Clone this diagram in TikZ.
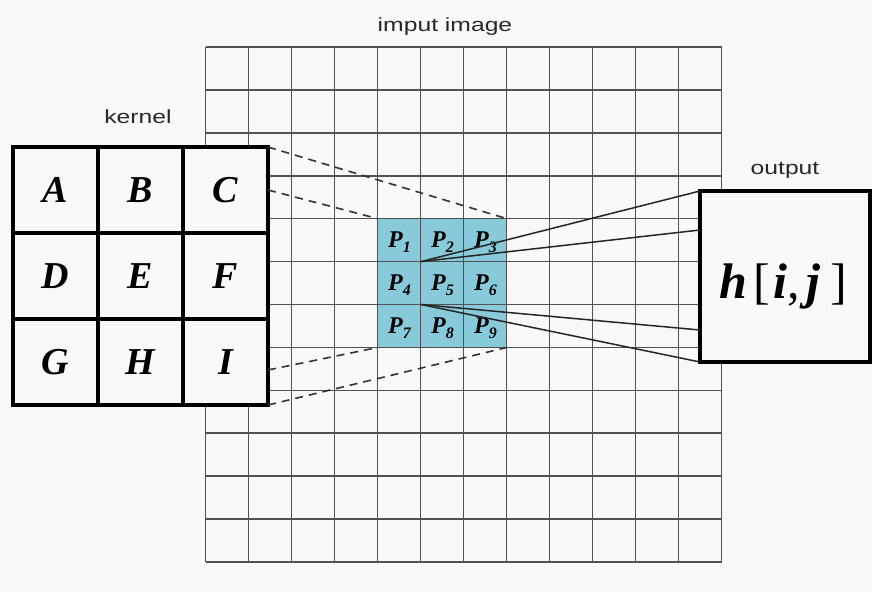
\documentclass[tikz,border=0pt]{standalone}
\usepackage{fontspec}
\setmainfont{Liberation Serif}
\newfontfamily\labfont{Liberation Sans}
\usepackage{graphicx}
\definecolor{bgcol}{RGB}{249,249,249}
\definecolor{wincol}{RGB}{137,202,218}
\definecolor{labcol}{RGB}{40,40,40}
\newcommand\widetext[1]{\scalebox{1.3}[1]{#1}}
\newcommand\pcell[1]{{\fontsize{24}{24}\selectfont\bfseries\itshape P\raisebox{-5pt}{\fontsize{16}{16}\selectfont #1}}}
\begin{document}
\begin{tikzpicture}[x=1pt,y=-1pt,
  gridline/.style={draw=black!68,line width=1.6pt},
  kcell/.style={draw=black,line width=3.6pt,fill=bgcol,minimum width=85pt,minimum height=86pt,
    inner sep=0pt,outer sep=0pt,font=\fontsize{38}{38}\selectfont\bfseries\itshape},
  pixcell/.style={fill=wincol,minimum width=43pt,minimum height=42.9pt,inner sep=0pt,outer sep=0pt},
  outbox/.style={draw=black,line width=3.6pt,fill=bgcol,minimum width=170pt,minimum height=171pt,
    inner sep=0pt,outer sep=0pt},
  caption/.style={font=\labfont\fontsize{19}{19}\selectfont,text=labcol,inner sep=0pt},
  guide/.style={draw=black!80,line width=1.6pt,dash pattern=on 8pt off 6pt},
  link/.style={draw=black!85,line width=1.5pt}]

\fill[bgcol] (0,0) rectangle (872,592);
\useasboundingbox (0,0) rectangle (872,592);

% highlighted 3x3 window of the input image
\foreach \r in {0,1,2}{
  \foreach \c in {0,1,2}{
    \pgfmathtruncatemacro{\n}{3*\r+\c+1}
    \node[pixcell] (p\n) at ({378+21.5+43*\c},{218.7+21.45+42.9*\r}) {};
  }
}

% input image grid, 12 x 12
\foreach \i in {0,...,12}{
  \draw[gridline] ({205.5+43*\i},47) -- ({205.5+43*\i},562);
  \draw[gridline] (205.5,{47+42.92*\i}) -- (721.5,{47+42.92*\i});
}

% pixel labels
\foreach \n in {1,...,9}{
  \node[inner sep=0pt] (pl\n) at ([yshift=-2pt]p\n.center) {\pcell{\n}};
}

% kernel
\node[kcell] (kA) at (55.5,190) {A};
\node[kcell] (kB) at (140.5,190) {B};
\node[kcell] (kC) at (225.5,190) {C};
\node[kcell] (kD) at (55.5,276) {D};
\node[kcell] (kE) at (140.5,276) {E};
\node[kcell] (kF) at (225.5,276) {F};
\node[kcell] (kG) at (55.5,362) {G};
\node[kcell] (kH) at (140.5,362) {H};
\node[kcell] (kI) at (225.5,362) {I};

% output pixel
\node[outbox] (out) at (785,276.5) {};
\node[inner sep=0pt] (outtext) at (783,286)
  {\fontsize{50}{50}\selectfont{\bfseries\itshape h}\hspace{6pt}[\hspace{4pt}{\bfseries\itshape i},\hspace{6pt}{\bfseries\itshape j}\hspace{10pt}]};

% captions
\node[caption] (capin) at (445,27) {\widetext{imput image}};
\node[caption] (capk) at (138,117) {\widetext{kernel}};
\node[caption] (capout) at (785,170) {\widetext{output}};

% kernel footprint on the image
\draw[guide] (kC.north east) -- (p3.north east);
\draw[guide] (kC.east) -- (p1.north west);
\draw[guide] ([yshift=-8pt]kI.east) -- (p7.south west);
\draw[guide] (kI.south east) -- (p9.south east);

% window contributes to output pixel
\draw[link] (p1.south east) -- (out.north west);
\draw[link] (p1.south east) -- ([yshift=-39pt]out.north west);
\draw[link] (p4.south east) -- ([yshift=32pt]out.south west);
\draw[link] (p4.south east) -- (out.south west);
\end{tikzpicture}
\end{document}
